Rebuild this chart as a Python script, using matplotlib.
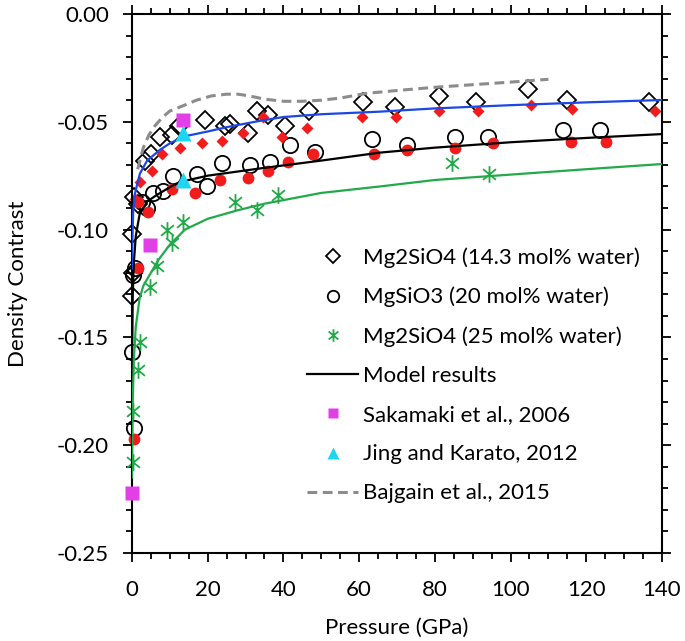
import matplotlib
matplotlib.use("Agg")
import matplotlib.pyplot as plt
from matplotlib.path import Path
from matplotlib.ticker import MultipleLocator, FormatStrFormatter

plt.rcParams['font.family'] = ['Lato', 'DejaVu Sans']
plt.rcParams['axes.unicode_minus'] = False

#Mg2SiO4 (14.3 mol% water) - open diamonds
dia_p = [0.5, 1.5, 0.0, 0.3, 0.0, 3.5, 5.0, 7.4, 10.5, 12.5, 19.3, 24.6, 25.9, 30.7,
         32.9, 36.0, 40.4, 46.8, 60.9, 69.5, 81.1, 91.0, 104.5, 114.8, 136.6]
dia_d = [-0.085, -0.088, -0.102, -0.120, -0.131, -0.068, -0.065, -0.057, -0.056, -0.052,
         -0.049, -0.052, -0.051, -0.055, -0.045, -0.047, -0.052, -0.045, -0.041, -0.043,
         -0.038, -0.041, -0.035, -0.040, -0.041]

#red diamonds (no legend entry)
rdia_p = [0.8, 2.1, 5.2, 7.8, 12.7, 18.4, 23.7, 29.4, 34.7, 39.5, 46.1, 60.7, 69.7,
          81.2, 91.3, 105.4, 116.3, 138.1]
rdia_d = [-0.086, -0.078, -0.073, -0.065, -0.062, -0.060, -0.059, -0.055, -0.048, -0.057,
          -0.053, -0.048, -0.048, -0.045, -0.045, -0.042, -0.044, -0.045]

#MgSiO3 (20 mol% water) - open circles
cir_p = [0.0, 0.5, 0.3, 0.8, 2.6, 3.9, 5.6, 8.3, 10.9, 17.1, 19.7, 23.7, 31.2, 36.5,
         41.7, 48.3, 63.3, 72.6, 85.3, 94.1, 113.9, 123.6]
cir_d = [-0.157, -0.192, -0.121, -0.118, -0.087, -0.090, -0.083, -0.082, -0.075, -0.074,
         -0.080, -0.069, -0.070, -0.0685, -0.061, -0.064, -0.058, -0.061, -0.057, -0.057,
         -0.054, -0.054]

#red circles (no legend entry)
rcir_p = [0.5, 1.5, 1.5, 4.3, 10.5, 16.6, 23.2, 30.7, 36.0, 41.3, 47.9, 63.8, 72.7,
          85.3, 95.4, 115.9, 125.2]
rcir_d = [-0.197, -0.118, -0.087, -0.092, -0.081, -0.083, -0.077, -0.076, -0.073, -0.0685,
          -0.065, -0.065, -0.063, -0.062, -0.060, -0.0595, -0.0595]

#Mg2SiO4 (25 mol% water) - green asterisks
ast_p = [0.3, 0.3, 1.5, 2.2, 4.7, 6.7, 9.2, 10.5, 13.6, 27.2, 32.9, 38.6, 84.4, 94.4]
ast_d = [-0.208, -0.184, -0.165, -0.152, -0.1265, -0.117, -0.100, -0.1064, -0.0963,
         -0.087, -0.091, -0.084, -0.069, -0.074]

#model curves
blue_p = [0, 0.1, 0.3, 0.7, 1.5, 2.1, 4, 7.4, 10, 14, 20, 25, 34, 40, 50, 65.5, 80, 100, 120, 140]
blue_d = [-0.118, -0.105, -0.092, -0.084, -0.078, -0.074, -0.068, -0.063, -0.060, -0.0567,
          -0.0545, -0.0525, -0.0495, -0.0478, -0.0465, -0.0453, -0.0438, -0.0423, -0.0410, -0.0399]

black_p = [0, 0.2, 0.5, 1, 2, 4, 6.5, 11, 15, 20, 34, 50, 65.5, 80, 100, 120, 140]
black_d = [-0.165, -0.130, -0.115, -0.103, -0.093, -0.087, -0.084, -0.0793, -0.077, -0.075,
           -0.0716, -0.068, -0.0643, -0.062, -0.0595, -0.0575, -0.0557]

green_p = [0, 0.2, 0.5, 1, 2, 3, 5, 7, 10, 14, 20, 28, 35, 50, 65.5, 80, 100, 120, 140]
green_d = [-0.215, -0.180, -0.160, -0.145, -0.132, -0.126, -0.120, -0.114, -0.107, -0.100,
           -0.095, -0.091, -0.088, -0.083, -0.080, -0.077, -0.0745, -0.072, -0.0696]

#Bajgain et al., 2015
gray_p = [1.5, 3, 4.5, 6, 8, 10, 13.6, 17, 21, 25, 28, 31, 35, 40, 45, 50, 55, 62, 70, 80,
          90, 100, 110]
gray_d = [-0.072, -0.062, -0.056, -0.052, -0.048, -0.045, -0.0425, -0.040, -0.038, -0.0372,
          -0.0372, -0.038, -0.0395, -0.0405, -0.0405, -0.040, -0.039, -0.0368, -0.0355,
          -0.034, -0.0328, -0.0316, -0.0303]

#Sakamaki et al., 2006 and Jing and Karato, 2012
sak_p = [0.0, 4.75, 13.6]
sak_d = [-0.222, -0.107, -0.049]
jing_p = [13.6, 13.6]
jing_d = [-0.055, -0.077]

RED = "#f21c1c"
GREEN = "#22a94a"
BLUE = "#1a47e6"
PURPLE = "#e23fe6"
CYAN = "#1ed6f2"

#asterisk = vertical bar + an X, like the excel marker
STAR = Path([(0, -1), (0, 1), (-0.77, -0.64), (0.77, 0.64), (-0.77, 0.64), (0.77, -0.64)],
            [Path.MOVETO, Path.LINETO] * 3)


def main():
    fig = plt.figure(figsize=(6.85, 6.41), dpi=100)
    ax = fig.add_axes([0.1927, 0.1373, 0.7737, 0.8409])

    #markers sitting on P=0 hang over the axis in the original, so no clipping
    ax.plot(dia_p, dia_d, linestyle="none", marker="D", ms=9, mfc="none",
            mec="black", mew=1.3, zorder=2, clip_on=False,
            label="Mg2SiO4 (14.3 mol% water)")
    ax.plot(cir_p, cir_d, linestyle="none", marker="o", ms=11, mfc="none",
            mec="black", mew=1.3, zorder=2, clip_on=False,
            label="MgSiO3 (20 mol% water)")
    ax.plot(ast_p, ast_d, linestyle="none", marker=STAR, ms=12,
            mec=GREEN, mew=1.3, zorder=2, clip_on=False,
            label="Mg2SiO4 (25 mol% water)")

    #model curves - only the black one goes in the legend
    ax.plot(black_p, black_d, color="black", lw=1.6, zorder=3, label="Model results")
    ax.plot(blue_p, blue_d, color=BLUE, lw=1.6, zorder=3)
    ax.plot(green_p, green_d, color=GREEN, lw=1.6, zorder=3)

    ax.plot(rdia_p, rdia_d, linestyle="none", marker="D", ms=6, color=RED,
            mec="none", zorder=2.5, clip_on=False)
    ax.plot(rcir_p, rcir_d, linestyle="none", marker="o", ms=8.5, color=RED,
            mec="none", zorder=2.5, clip_on=False)

    ax.plot(sak_p, sak_d, linestyle="none", marker="s", ms=10.5, color=PURPLE,
            mec="none", zorder=4, clip_on=False, label="Sakamaki et al., 2006")
    ax.plot(jing_p, jing_d, linestyle="none", marker="^", ms=12, color=CYAN,
            mec="none", zorder=4, label="Jing and Karato, 2012")
    ax.plot(gray_p, gray_d, color="#8c8c8c", lw=2.2, dashes=(3.2, 1.8), zorder=3,
            label="Bajgain et al., 2015")

    ax.set_xlim(0, 140)
    ax.set_ylim(-0.25, 0)
    ax.xaxis.set_major_locator(MultipleLocator(20))
    ax.xaxis.set_minor_locator(MultipleLocator(5))
    ax.yaxis.set_major_locator(MultipleLocator(0.05))
    ax.yaxis.set_minor_locator(MultipleLocator(0.01))
    ax.yaxis.set_major_formatter(FormatStrFormatter("%.2f"))

    ax.tick_params(which="both", direction="out", top=True, right=True,
                   width=1.3, labelsize=16)
    ax.tick_params(which="major", length=6.5)
    ax.tick_params(which="minor", length=4.3)
    ax.tick_params(axis="x", which="major", pad=13)
    ax.tick_params(axis="y", which="major", pad=10)
    for s in ax.spines.values():
        s.set_linewidth(1.5)

    ax.set_xlabel("Pressure (GPa)", fontsize=16, labelpad=13)
    ax.set_ylabel("Density Contrast", fontsize=16, labelpad=21)

    ax.legend(loc="upper left", bbox_to_anchor=(307 / 685, 1 - 247 / 641),
              bbox_transform=fig.transFigure, frameon=False, fontsize=16,
              borderpad=0, borderaxespad=0, handlelength=2.3, handletextpad=0.2,
              labelspacing=0.86, markerscale=0.75)

    fig.savefig("out.png", dpi=100)


if __name__ == "__main__":
    main()
